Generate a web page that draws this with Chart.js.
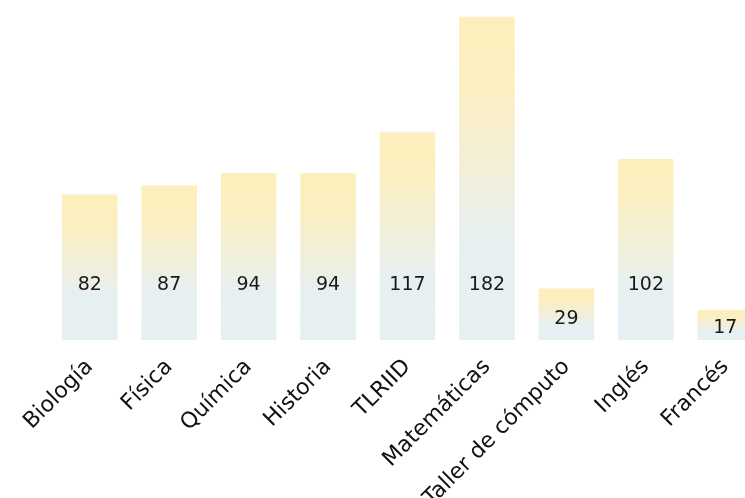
<!DOCTYPE html>
<html>
<head>
<meta charset="utf-8">
<script src="https://cdn.jsdelivr.net/npm/chart.js@4"></script>
<style>
  html, body { margin: 0; padding: 0; background: #fff; overflow: hidden; }
  #wrap { position: relative; width: 765px; height: 498px; }
</style>
</head>
<body>
<div id="wrap"><canvas id="grafico"></canvas></div>
<script>
var materias = ['Biología', 'Física', 'Química', 'Historia', 'TLRIID', 'Matemáticas', 'Taller de cómputo', 'Inglés', 'Francés'];
var alumnos = [82, 87, 94, 94, 117, 182, 29, 102, 17];

var fuente = "'DejaVu Sans', sans-serif";

// degradado por barra: amarillo arriba, azul grisáceo abajo
function degradado(ctx) {
  var chart = ctx.chart;
  var area = chart.chartArea;
  if (!area || ctx.type !== 'data') return '#f2efd8';
  var y = chart.scales.y;
  var top = y.getPixelForValue(ctx.raw);
  var base = y.getPixelForValue(0);
  var g = chart.ctx.createLinearGradient(0, top, 0, base);
  g.addColorStop(0, '#fdefbd');
  g.addColorStop(0.2, '#fcefc0');
  g.addColorStop(0.45, '#f3efd6');
  g.addColorStop(0.7, '#e7f0f1');
  g.addColorStop(1, '#e6eff2');
  return g;
}

var etiquetas = {
  id: 'etiquetas',
  afterDatasetsDraw: function(chart) {
    var c = chart.ctx;
    var meta = chart.getDatasetMeta(0);
    c.save();
    c.font = '19px ' + fuente;
    c.fillStyle = '#1a1a1a';
    c.textAlign = 'center';
    c.textBaseline = 'middle';
    meta.data.forEach(function(bar, i) {
      var alto = bar.base - bar.y;
      var off = Math.min(55, alto * 0.4);
      c.fillText(String(alumnos[i]), bar.x, bar.base - off);
    });
    c.restore();
  }
};

var grafico = document.getElementById('grafico').getContext('2d');
new Chart(grafico, {
  type: 'bar',
  data: {
    labels: materias,
    datasets: [{
      data: alumnos,
      backgroundColor: degradado,
      borderWidth: 0,
      barPercentage: 0.7,
      categoryPercentage: 1
    }]
  },
  options: {
    responsive: true,
    maintainAspectRatio: false,
    animation: false,
    layout: { padding: { left: 50, right: 0, top: 0, bottom: 0 } },
    plugins: { legend: { display: false }, tooltip: { enabled: false } },
    scales: {
      x: {
        grid: { display: false, drawTicks: false },
        border: { display: false },
        afterFit: function(scale) { scale.height = 158; },
        ticks: {
          color: '#111',
          font: { family: fuente, size: 22 },
          minRotation: 45,
          maxRotation: 45,
          padding: 14
        }
      },
      y: {
        display: false,
        min: 0,
        max: 191.5
      }
    }
  },
  plugins: [etiquetas]
});
</script>
</body>
</html>
